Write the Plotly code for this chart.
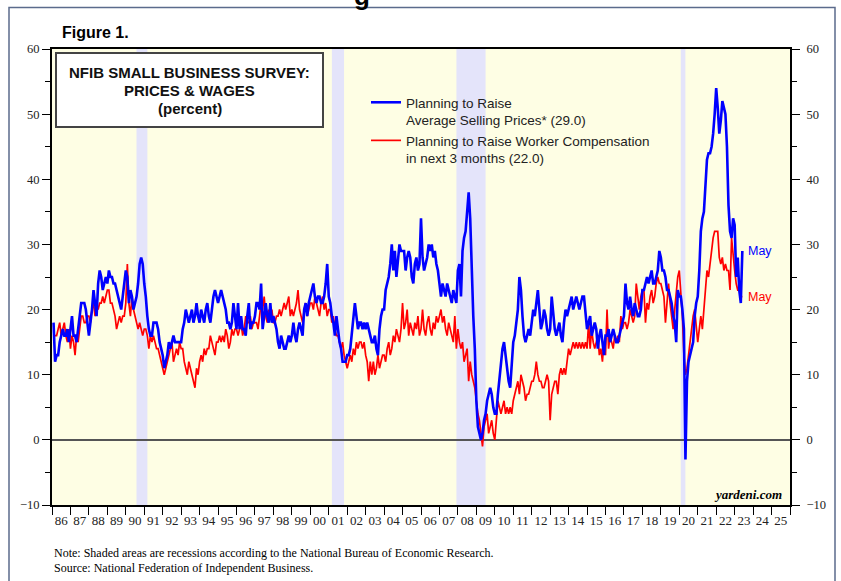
import plotly.graph_objects as go

start_year = 1986

# Net % planning to raise average selling prices (monthly, Jan 1986 - May 2023)
price_plans = [
    18, 12, 13, 13, 15, 16, 17, 16, 16, 17, 15, 17,   # 1986
    19, 16, 16, 15, 17, 19, 21, 21, 21, 20, 18, 16,   # 1987
    18, 20, 23, 21, 19, 24, 26, 25, 23, 24, 25, 24,   # 1988
    26, 25, 25, 24, 24, 23, 22, 21, 20, 22, 24, 26,   # 1989
    25, 21, 23, 22, 20, 21, 22, 24, 27, 28, 27, 24,   # 1990
    22, 19, 17, 16, 16, 18, 18, 18, 17, 15, 14, 13,   # 1991
    11, 12, 13, 15, 14, 15, 16, 15, 15, 15, 15, 15,   # 1992
    17, 18, 20, 19, 18, 19, 20, 18, 19, 21, 19, 18,   # 1993
    20, 19, 18, 20, 21, 19, 18, 20, 22, 23, 22, 21,   # 1994
    22, 23, 22, 21, 20, 18, 18, 17, 18, 21, 19, 17,   # 1995
    21, 17, 19, 17, 17, 16, 19, 21, 17, 18, 18, 19,   # 1996
    21, 21, 20, 24, 17, 19, 21, 19, 18, 21, 18, 19,   # 1997
    18, 17, 15, 14, 16, 15, 14, 14, 15, 16, 15, 16,   # 1998
    18, 16, 15, 17, 18, 17, 16, 20, 21, 19, 21, 22,   # 1999
    23, 24, 22, 21, 22, 22, 21, 21, 22, 24, 27, 22,   # 2000
    21, 19, 18, 16, 19, 17, 15, 14, 12, 12, 12, 13,   # 2001
    13, 14, 16, 18, 21, 19, 17, 18, 18, 17, 18, 17,   # 2002
    18, 17, 16, 15, 15, 16, 14, 13, 17, 19, 20, 20,   # 2003
    23, 24, 25, 27, 30, 26, 29, 25, 28, 30, 29, 29,   # 2004
    29, 26, 28, 29, 28, 25, 24, 27, 28, 26, 27, 34,   # 2005
    28, 26, 27, 28, 30, 29, 30, 28, 29, 27, 26, 24,   # 2006
    22, 24, 23, 22, 24, 23, 22, 21, 23, 22, 21, 26,   # 2007
    27, 22, 29, 31, 32, 35, 38, 34, 26, 19, 14, 6,    # 2008
    2, 1, 0, 1, 3, 4, 6, 7, 8, 7, 5, 4,               # 2009
    4, 7, 9, 12, 14, 15, 13, 11, 9, 8, 12, 15,        # 2010
    16, 18, 20, 25, 23, 19, 16, 15, 16, 17, 16, 18,   # 2011
    20, 19, 21, 23, 20, 17, 18, 20, 19, 17, 16, 17,   # 2012
    22, 19, 17, 16, 17, 18, 16, 15, 18, 20, 19, 20,   # 2013
    21, 22, 20, 21, 22, 21, 20, 21, 22, 22, 19, 17,   # 2014
    18, 19, 16, 17, 18, 17, 14, 16, 17, 15, 13, 16,   # 2015
    16, 17, 15, 16, 17, 16, 15, 15, 16, 17, 18, 19,   # 2016
    24, 21, 20, 22, 20, 19, 21, 20, 19, 19, 20, 23,   # 2017
    23, 24, 25, 24, 25, 26, 24, 24, 25, 26, 29, 28,   # 2018
    26, 26, 25, 23, 23, 22, 21, 19, 18, 15, 23, 22,   # 2019
    22, 20, 17, -3, 9, 12, 13, 14, 15, 19, 21, 22,    # 2020
    26, 32, 34, 35, 40, 43, 44, 44, 45, 47, 50, 54,   # 2021
    51, 47, 49, 52, 51, 50, 45, 36, 32, 31, 34, 33,   # 2022
    25, 28, 23, 21, 29,                               # 2023
]

# Net % planning to raise worker compensation in next 3 months
comp_plans = [
    16, 16, 16, 17, 18, 16, 17, 18, 16, 15, 17, 14,   # 1986
    16, 15, 13, 16, 15, 17, 19, 19, 18, 18, 19, 19,   # 1987
    18, 20, 21, 19, 21, 20, 21, 21, 22, 21, 22, 23,   # 1988
    23, 21, 21, 20, 19, 17, 18, 19, 18, 19, 19, 21,   # 1989
    27, 21, 19, 22, 20, 19, 18, 17, 18, 17, 16, 17,   # 1990
    17, 16, 14, 16, 15, 16, 15, 14, 14, 13, 12, 11,   # 1991
    10, 11, 12, 13, 14, 15, 12, 13, 14, 13, 15, 14,   # 1992
    14, 12, 11, 10, 12, 11, 10, 9, 8, 11, 10, 12,     # 1993
    13, 12, 14, 13, 14, 14, 16, 15, 14, 13, 15, 15,   # 1994
    16, 15, 16, 15, 17, 16, 14, 15, 17, 16, 17, 17,   # 1995
    16, 17, 18, 16, 17, 19, 18, 18, 19, 17, 18, 18,   # 1996
    18, 17, 19, 21, 20, 22, 19, 18, 20, 19, 20, 18,   # 1997
    18, 19, 19, 20, 19, 20, 21, 20, 21, 22, 19, 20,   # 1998
    19, 20, 21, 23, 20, 19, 18, 20, 21, 19, 20, 21,   # 1999
    21, 20, 22, 21, 20, 19, 21, 22, 20, 21, 19, 20,   # 2000
    20, 18, 19, 17, 16, 16, 15, 14, 15, 13, 12, 11,   # 2001
    12, 13, 12, 14, 13, 15, 14, 15, 15, 14, 15, 13,   # 2002
    12, 9, 12, 10, 12, 10, 11, 13, 11, 12, 13, 13,    # 2003
    12, 14, 15, 13, 14, 16, 15, 17, 16, 15, 17, 21,   # 2004
    17, 18, 20, 16, 18, 17, 16, 18, 17, 19, 16, 17,   # 2005
    20, 17, 16, 18, 19, 17, 16, 18, 17, 19, 18, 19,   # 2006
    20, 18, 19, 17, 16, 18, 17, 16, 15, 19, 14, 17,   # 2007
    15, 14, 15, 12, 13, 14, 9, 12, 10, 9, 8, 6,       # 2008
    4, 3, 1, -1, 2, 3, 4, 1, 2, 3, 1, 0,              # 2009
    3, 6, 5, 4, 5, 6, 4, 5, 4, 5, 4, 6,               # 2010
    7, 8, 9, 7, 10, 9, 8, 6, 7, 7, 8, 9,              # 2011
    9, 10, 12, 10, 9, 9, 8, 8, 9, 10, 9, 3,           # 2012
    7, 8, 9, 9, 7, 10, 11, 10, 11, 10, 12, 14,        # 2013
    13, 14, 15, 14, 15, 14, 15, 14, 15, 14, 15, 14,   # 2014
    18, 14, 17, 15, 14, 15, 16, 13, 14, 12, 15, 13,   # 2015
    20, 14, 16, 15, 14, 16, 15, 16, 15, 19, 17, 18,   # 2016
    18, 17, 18, 20, 19, 18, 19, 24, 22, 20, 22, 23,   # 2017
    23, 18, 21, 20, 22, 23, 21, 22, 24, 25, 24, 24,   # 2018
    23, 22, 18, 21, 24, 21, 19, 17, 20, 23, 25, 26,   # 2019
    22, 19, 13, 10, 11, 13, 15, 17, 19, 20, 17, 15,   # 2020
    17, 19, 17, 20, 22, 26, 25, 27, 29, 31, 32, 32,   # 2021
    32, 28, 27, 28, 26, 27, 26, 26, 23, 31, 28, 26,   # 2022
    24, 23, 23, 22, 22,                               # 2023
]

# NBER recessions (decimal years)
recessions = [(1990.58, 1991.17), (2001.17, 2001.83), (2007.92, 2009.5), (2020.08, 2020.33)]

year_ticks = list(range(1986, 2026))
year_labels = [f"{y % 100:02d}" for y in year_ticks]

price_name = "Planning to Raise<br>Average Selling Prices* (29.0)"
comp_name = "Planning to Raise Worker Compensation<br>in next 3 months (22.0)"

def month_x(n):
    return [start_year + (i + 1) / 12 for i in range(n)]

fig = go.Figure()
fig.add_trace(go.Scatter(x=month_x(len(price_plans)), y=price_plans, mode="lines",
                         name=price_name, line=dict(color="#0000FF", width=2.6), yaxis="y2"))
fig.add_trace(go.Scatter(x=month_x(len(comp_plans)), y=comp_plans, mode="lines",
                         name=comp_name, line=dict(color="#FF0000", width=1.7), yaxis="y"))

shapes = []
for a, b in recessions:
    shapes.append(dict(type="rect", xref="x", yref="paper", x0=a, x1=b, y0=0, y1=1,
                       fillcolor="#E4E4FA", line=dict(width=0), layer="below"))

W, H = 841, 581
L, R, T, B = 52, 790, 49, 505

def px(xp):
    return (xp - L) / (R - L)

def py(yp):
    return (B - yp) / (B - T)

# title box
shapes.append(dict(type="rect", xref="paper", yref="paper", x0=px(56), x1=px(323),
                   y0=py(127), y1=py(53), fillcolor="white", line=dict(color="#444444", width=2)))
# outer frame
shapes.append(dict(type="rect", xref="paper", yref="paper", x0=px(9), x1=px(835),
                   y0=py(600), y1=py(7.5), line=dict(color="#5b6b8c", width=1.5)))

sans = "Liberation Sans, Arial, sans-serif"
serif = "Liberation Serif, Times New Roman, serif"

annotations = [
    dict(text="<b>NFIB SMALL BUSINESS SURVEY:</b>", x=px(189.5), y=py(72)),
    dict(text="<b>PRICES & WAGES</b>", x=px(189.5), y=py(90)),
    dict(text="<b>(percent)</b>", x=px(189.5), y=py(108)),
]
for a in annotations:
    a.update(xref="paper", yref="paper", xanchor="center", yanchor="middle", showarrow=False,
             font=dict(family=sans, size=15, color="#111111"))

annotations += [
    dict(text="<b>Figure 1.</b>", xref="paper", yref="paper", x=px(60), y=py(32.5),
         xanchor="left", yanchor="middle", showarrow=False,
         font=dict(family=sans, size=16, color="#000000")),
    dict(text="<b>g</b>", xref="paper", yref="paper", x=px(362), y=py(13),
         xanchor="center", yanchor="bottom", showarrow=False,
         font=dict(family=sans, size=26, color="#000000")),
    dict(text="<b><i>yardeni.com</i></b>", xref="paper", yref="paper", x=px(784), y=py(494),
         xanchor="right", yanchor="middle", showarrow=False,
         font=dict(family=serif, size=13, color="#000000")),
    dict(text="Note: Shaded areas are recessions according to the National Bureau of Economic Research.",
         xref="paper", yref="paper", x=px(52), y=py(553), xanchor="left", yanchor="middle",
         showarrow=False, font=dict(family=serif, size=12, color="#000000")),
    dict(text="Source: National Federation of Independent Business.",
         xref="paper", yref="paper", x=px(52), y=py(568), xanchor="left", yanchor="middle",
         showarrow=False, font=dict(family=serif, size=12, color="#000000")),
    dict(text="May", xref="x", yref="y", x=2023.62, y=price_plans[-1], xanchor="left",
         yanchor="middle", showarrow=False, font=dict(family=sans, size=12.5, color="#0000FF")),
    dict(text="May", xref="x", yref="y", x=2023.62, y=comp_plans[-1], xanchor="left",
         yanchor="middle", showarrow=False, font=dict(family=sans, size=12.5, color="#FF0000")),
]

yax_common = dict(range=[-10, 60], tickmode="array", tickvals=list(range(-10, 61, 10)),
                  ticks="outside", ticklen=8, tickwidth=1.2, tickcolor="#000000",
                  showline=True, linecolor="#000000", linewidth=2, showgrid=False,
                  tickfont=dict(family=serif, size=12.5, color="#222222"),
                  minor=dict(tickmode="array", tickvals=list(range(-5, 60, 10)),
                             ticks="outside", ticklen=5, tickwidth=1.2, tickcolor="#000000",
                             showgrid=False),
                  fixedrange=True)

fig.update_layout(
    width=W, height=H,
    margin=dict(l=L, r=W - R, t=T, b=H - B),
    paper_bgcolor="white",
    plot_bgcolor="#FEFEE4",
    showlegend=True,
    legend=dict(x=px(366), y=py(87), xanchor="left", yanchor="top", valign="top",
                bgcolor="rgba(0,0,0,0)", borderwidth=0, tracegroupgap=0,
                font=dict(family=sans, size=13.5, color="#222222")),
    xaxis=dict(range=[1986, 2026], tickmode="array",
               tickvals=[y + 0.5 for y in year_ticks], ticktext=year_labels,
               ticks="", showline=True, linecolor="#000000", linewidth=2, mirror=True,
               showgrid=False, zeroline=False, ticklabelstandoff=2, fixedrange=True,
               tickfont=dict(family=serif, size=13, color="#222222"),
               minor=dict(tickmode="array", tickvals=list(range(1986, 2027)),
                          ticks="outside", ticklen=8, tickwidth=1.2, tickcolor="#000000",
                          showgrid=False)),
    yaxis=dict(**yax_common, side="left", zeroline=True, zerolinecolor="#555555",
               zerolinewidth=1.5),
    yaxis2=dict(**yax_common, side="right", overlaying="y", zeroline=False,
                ticklabelstandoff=4),
    shapes=shapes,
    annotations=annotations,
)

fig.write_html("out.html", config={"displayModeBar": False},
               post_script="document.body.style.margin='0px';document.body.style.overflow='hidden';")
